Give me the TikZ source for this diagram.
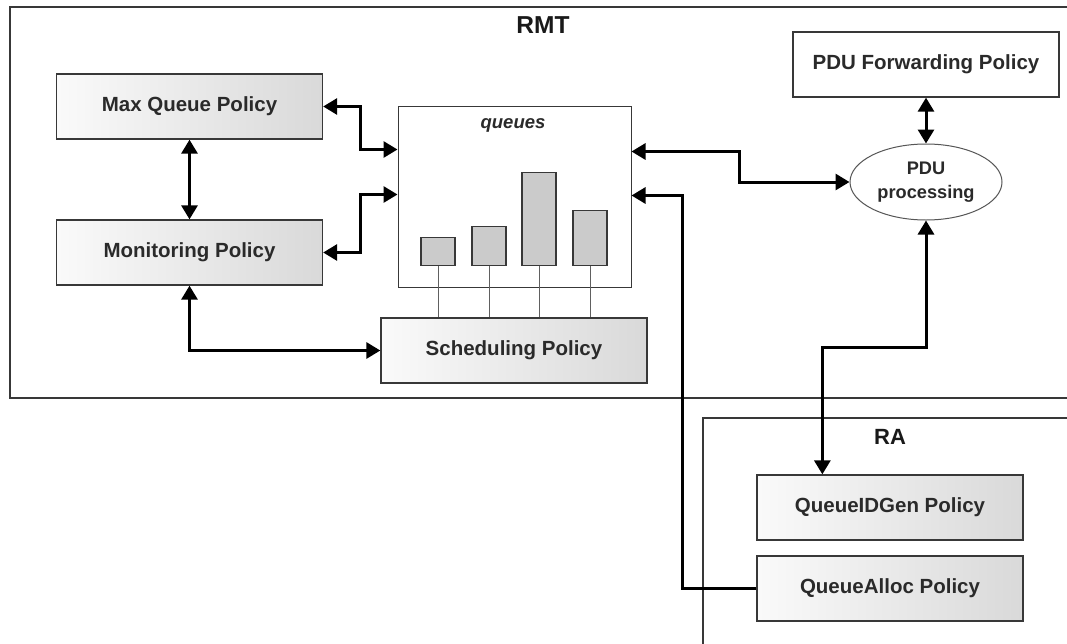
\documentclass[tikz,border=0pt]{standalone}
\usepackage{fontspec}
\setmainfont{Liberation Sans}
\usetikzlibrary{arrows.meta,shapes.geometric,calc}

\definecolor{edge}{HTML}{383838}
\definecolor{ink}{HTML}{2A2A2A}
\definecolor{shadeL}{HTML}{FAFAFA}
\definecolor{shadeR}{HTML}{D9D9D9}
\definecolor{barfill}{HTML}{CBCBCB}

\tikzset{
  policy/.style={draw=edge, line width=1.3pt, left color=shadeL, right color=shadeR,
    minimum width=266pt, minimum height=65pt, inner sep=0pt, text=ink,
    font=\bfseries\fontsize{20.5}{23}\selectfont},
  plainbox/.style={draw=edge, line width=1.3pt, fill=white,
    minimum width=266pt, minimum height=65pt, inner sep=0pt, text=ink,
    font=\bfseries\fontsize{20.5}{23}\selectfont},
  qbar/.style={draw=edge, line width=1.2pt, fill=barfill, minimum width=34pt,
    inner sep=0pt, anchor=south},
  frame/.style={draw=edge, line width=1.6pt},
  title/.style={font=\bfseries\fontsize{24.5}{27}\selectfont, text=black!90},
  tip/.tip={Triangle[length=14pt,width=16pt]},
  link/.style={line width=3pt, black, tip-tip},
  onelink/.style={line width=3pt, black, -tip},
  tap/.style={draw=edge!80, line width=1pt}
}

\begin{document}
\begin{tikzpicture}[x=1pt, y=-1pt]
  \useasboundingbox (0,0) rectangle (1067,643);
  \clip (0,0) rectangle (1067,643);
  \fill[white] (0,0) rectangle (1067,643);

  % outer module frames
  \draw[frame] (1080,7) -- (10,7) -- (10,398) -- (1080,398);
  \draw[frame] (1080,418) -- (703,418) -- (703,660);
  \node[title] (rmt) at (543,25) {RMT};
  \node[title, font=\bfseries\fontsize{22}{25}\selectfont] (ra) at (890,437) {RA};

  % RMT policies
  \node[policy] (mq) at (189.5,106.5) {Max Queue Policy};
  \node[policy] (mon) at (189.5,252.5) {Monitoring Policy};
  \node[policy] (sched) at (514,350.5) {Scheduling Policy};
  \node[plainbox] (fwd) at (926,64.5) {PDU Forwarding Policy};

  % queue container and queues
  \node[draw=edge, line width=1pt, fill=white, minimum width=233pt, minimum height=181pt,
        inner sep=0pt] (q) at (514.5,196.5) {};
  \node[font=\bfseries\itshape\fontsize{18.5}{21}\selectfont, text=ink] (qlabel) at (513,125) {queues};
  \node[qbar, minimum height=28pt] (b1) at (438,266) {};
  \node[qbar, minimum height=39pt] (b2) at (489,266) {};
  \node[qbar, minimum height=93pt] (b3) at (539,266) {};
  \node[qbar, minimum height=55pt] (b4) at (590,266) {};

  % PDU processing
  \node[ellipse, draw=edge!85, line width=1pt, fill=white, minimum width=152pt,
        minimum height=76pt, inner sep=0pt, align=center, text=ink,
        font=\bfseries\fontsize{18.2}{24}\selectfont] (pp) at (926,182) {PDU\\processing};

  % RA policies
  \node[policy] (qid) at (890,507.5) {QueueIDGen Policy};
  \node[policy] (qa) at (890,588.5) {QueueAlloc Policy};

  % queues feeding the scheduler
  \foreach \b in {b1,b2,b3,b4}
    \draw[tap] (\b.south) -- (\b.south |- sched.north);

  % connectors
  \draw[link] (mq.south) -- (mon.north);
  \draw[link] (mq.east) -- ++(37,0) |- ($(q.north west)+(0,44)$);
  \draw[link] (mon.east) -- ++(37,0) |- ($(q.north west)+(0,89)$);
  \draw[link] (mon.south) |- (sched.west);
  \draw[link] ($(q.north east)+(0,46)$) -- ++(108,0) |- (pp.west);
  \draw[onelink] (qa.west) -- ++(-74,0) |- ($(q.north east)+(0,90)$);
  \draw[link] (fwd.south) -- (pp.north);
  \draw[link] (pp.south) -- ++(0,127) -| ($(qid.north west)+(66,0)$);
\end{tikzpicture}
\end{document}
